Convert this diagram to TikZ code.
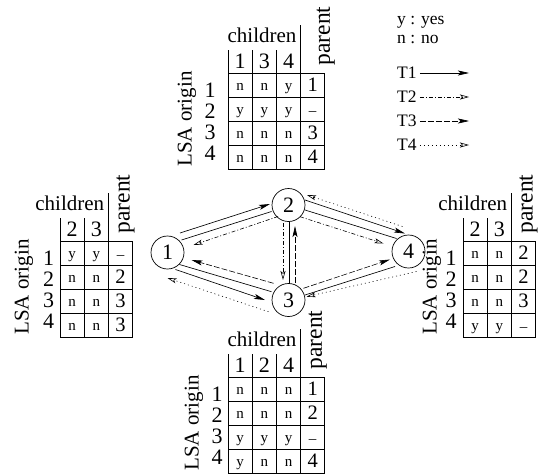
\documentclass[tikz,border=0pt]{standalone}
\usepackage{fontspec}
\setmainfont{Liberation Serif}
\usetikzlibrary{arrows.meta,calc}
\newcommand\cellfont{\fontsize{15}{15}\selectfont}
\newcommand\labfont{\fontsize{21}{21}\selectfont}
\newcommand\parfont{\fontsize{23.5}{23.5}\selectfont}
\newcommand\digfont{\fontsize{22}{22}\selectfont}
\newcommand\valfont{\fontsize{20.5}{20.5}\selectfont}
\newcommand\legfont{\fontsize{17.5}{17.5}\selectfont}
\newcommand\nodefont{\fontsize{22}{22}\selectfont}
\newcommand\nil{{\cellfont --}}
\def\cwid{24.2}
\def\parshift{5}

\tikzset{
  rule/.style={line width=0.75pt},
  cell/.style={inner sep=0pt,font=\cellfont,anchor=base},
  val/.style={inner sep=0pt,font=\valfont,anchor=base},
  dig/.style={inner sep=0pt,font=\digfont,anchor=base},
  lab/.style={inner sep=0pt,font=\labfont},
  leg/.style={inner sep=0pt,font=\legfont,anchor=west},
  router/.style={circle,draw,line width=0.7pt,minimum size=33pt,inner sep=0pt,font=\nodefont},
  link/.style={line width=0.65pt},
  tone/.style={line width=0.65pt,-{Stealth[length=11pt,width=5pt,inset=2.5pt]}},
  ttwo/.style={line width=0.6pt,dash pattern=on 4pt off 2pt on 1pt off 2pt,-{Stealth[open,length=9pt,width=5pt,inset=2pt]}},
  tthree/.style={line width=0.6pt,dash pattern=on 6pt off 2pt,-{Stealth[length=11pt,width=5pt,inset=2.5pt]}},
  tfour/.style={line width=0.6pt,dash pattern=on 1pt off 3pt,-{Stealth[open,length=9pt,width=5pt,inset=2pt]}},
}

% table frame: #1 name, #2 x, #3 y, #4 number of child columns, #5 header list, #6 row-label x, #7 origin x
\newcommand\tabframe[7]{%
\begin{scope}[shift={(#2,#3)}]
  \pgfmathsetmacro\tabsx{#4*\cwid}
  \draw[rule] (0,0) rectangle ({\tabsx+\cwid},96);
  \foreach \yy in {24,48,72} \draw[rule] (0,\yy) -- ({\tabsx+\cwid},\yy);
  \foreach \ii in {1,...,#4} \draw[rule] ({\ii*\cwid},0) -- ({\ii*\cwid},96);
  \foreach \hh [count=\ii] in {#5} {
    \node[dig] (#1h\ii) at ({(\ii-0.5)*\cwid},-5) {\hh};
    \draw[rule] ({(\ii-1)*\cwid},-23) -- ({(\ii-1)*\cwid},0);
  }
  \draw[rule] (\tabsx,-48) -- (\tabsx,0);
  \node[lab,anchor=base east] (#1ch) at ({\tabsx-4},-31) {children};
  \node[lab,font=\parfont,rotate=90] (#1pa) at ({\tabsx+0.5*\cwid+\parshift},-37) {parent};
  \foreach \rr in {1,...,4} \node[dig] (#1r\rr) at ({#6-#2},{24+(\rr-1)*21.3}) {\rr};
  \node[lab,rotate=90] (#1lo) at ({#7-#2},46) {LSA origin};
\end{scope}}

\newcommand\rowsthree[4]{%
\begin{scope}[shift={(#2,#3)}]
  \foreach \ca/\cb/\cc/\pv [count=\rr] in {#4} {
    \node[cell] (#1a\rr) at ({0.5*\cwid},{(\rr-1)*24+17.5}) {\ca};
    \node[cell] (#1b\rr) at ({1.5*\cwid},{(\rr-1)*24+17.5}) {\cb};
    \node[cell] (#1c\rr) at ({2.5*\cwid},{(\rr-1)*24+17.5}) {\cc};
    \node[val] (#1p\rr) at ({3.5*\cwid},{(\rr-1)*24+18}) {\pv};
  }
\end{scope}}

\newcommand\rowstwo[4]{%
\begin{scope}[shift={(#2,#3)}]
  \foreach \ca/\cb/\pv [count=\rr] in {#4} {
    \node[cell] (#1a\rr) at ({0.5*\cwid},{(\rr-1)*24+17.5}) {\ca};
    \node[cell] (#1b\rr) at ({1.5*\cwid},{(\rr-1)*24+17.5}) {\cb};
    \node[val] (#1p\rr) at ({2.5*\cwid},{(\rr-1)*24+18}) {\pv};
  }
\end{scope}}

\newcommand\seg[5]{\draw[#1] ($(#2)+(#3)$) -- ($(#4)+(#5)$);}

\begin{document}
\begin{tikzpicture}[x=1pt,y=-1pt]
\useasboundingbox (0,0) rectangle (545,474);

% routers
\node[router] (n1) at (167.5,252.5) {1};
\node[router] (n2) at (288.5,205) {2};
\node[router] (n3) at (288.5,300) {3};
\node[router] (n4) at (408.5,251.5) {4};

% link 1-2
\seg{tone}{n1}{12.5,-19.5}{n2}{-18.5,-1}
\seg{link}{n1}{14,-12.5}{n2}{-17,6.5}
\seg{ttwo}{n2}{-10.5,11.5}{n1}{26,-7.5}
% link 1-3
\seg{tthree}{n3}{-15,-16.7}{n1}{24,7.5}
\seg{link}{n1}{12,12}{n3}{-17,-8.3}
\seg{tone}{n1}{8,17}{n3}{-23.5,0}
\seg{tfour}{n3}{-20,11.7}{n1}{0,25.5}
% link 2-3
\seg{ttwo}{n2}{-5.5,18}{n3}{-5.5,-20}
\seg{link}{n2}{0.5,16.5}{n3}{0.5,-16.5}
\seg{tthree}{n3}{6.5,-17}{n2}{6.5,21}
% link 2-4
\seg{tfour}{n4}{-6,-25}{n2}{18.5,-10}
\seg{tone}{n2}{16.5,-5}{n4}{-3.5,-18}
\seg{link}{n2}{16.5,5}{n4}{-12,-13}
\seg{ttwo}{n2}{11.5,11.7}{n4}{-25,-8}
% link 3-4
\seg{tthree}{n3}{15,-11.7}{n4}{-18.5,8}
\seg{link}{n3}{16.5,-5}{n4}{-13.5,15}
\seg{tfour}{n4}{8,20}{n3}{18,-3.3}

% tables
\def\parshift{13}
\tabframe{tb}{228}{73}{3}{1,3,4}{210}{187}
\rowsthree{tb}{228}{73}{n/n/y/1, y/y/y/\nil, n/n/n/3, n/n/n/4}
\def\parshift{5}
\tabframe{tl}{60}{241}{2}{2,3}{48.5}{24}
\rowstwo{tl}{60}{241}{y/y/\nil, n/n/2, n/n/3, n/n/3}
\tabframe{tr}{463}{241}{2}{2,3}{451}{432}
\rowstwo{tr}{463}{241}{n/n/2, n/n/2, n/n/3, y/y/\nil}
\tabframe{bt}{228}{377}{3}{1,2,4}{217}{194}
\rowsthree{bt}{228}{377}{n/n/n/1, n/n/n/2, y/y/y/\nil, y/n/n/4}

% legend
\node[leg] (ky) at (397,22) {y : yes};
\node[leg] (kn) at (397,39) {n : no};
\node[leg] (k1) at (397,73) {T1};
\node[leg] (k2) at (397,97) {T2};
\node[leg] (k3) at (397,121) {T3};
\node[leg] (k4) at (397,145) {T4};
\coordinate (e1) at (469,73);
\coordinate (e2) at (469,97);
\coordinate (e3) at (469,121);
\coordinate (e4) at (469,145);
\draw[tone] ([xshift=3pt]k1.east) -- (e1);
\draw[ttwo] ([xshift=3pt]k2.east) -- (e2);
\draw[tthree] ([xshift=3pt]k3.east) -- (e3);
\draw[tfour] ([xshift=3pt]k4.east) -- (e4);
\end{tikzpicture}
\end{document}
